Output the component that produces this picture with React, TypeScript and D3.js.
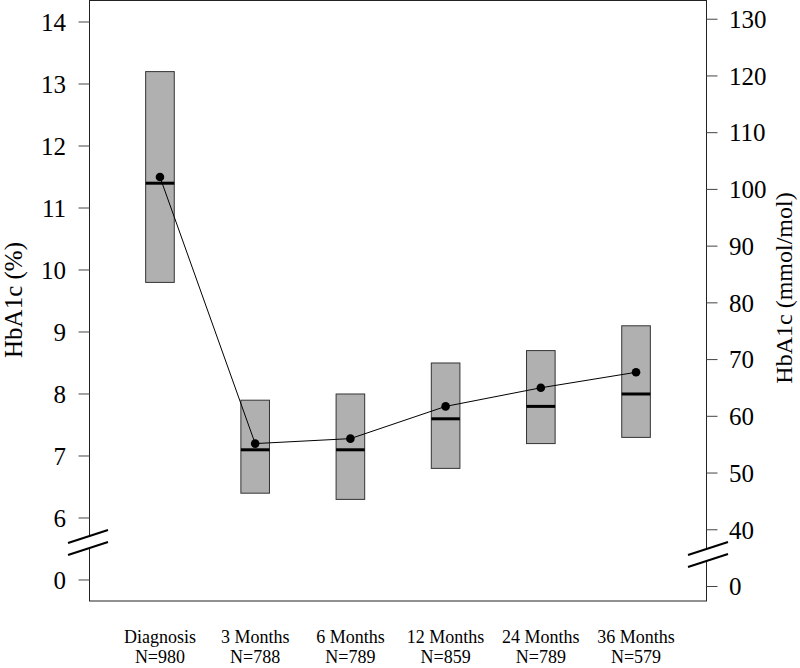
import React from "react";
import * as d3 from "d3";

const categories = ["Diagnosis", "3 Months", "6 Months", "12 Months", "24 Months", "36 Months"];
const sampleSizes = ["N=980", "N=788", "N=789", "N=859", "N=789", "N=579"];
const q1 = [9.8, 6.4, 6.3, 6.8, 7.2, 7.3];
const medians = [11.4, 7.1, 7.1, 7.6, 7.8, 8.0];
const q3 = [13.2, 7.9, 8.0, 8.5, 8.7, 9.1];
const means = [11.5, 7.2, 7.28, 7.8, 8.1, 8.35];
const leftTicks = [6, 7, 8, 9, 10, 11, 12, 13, 14];
const rightTicks = [40, 50, 60, 70, 80, 90, 100, 110, 120, 130];

const FONT = "Liberation Serif, Times New Roman, serif";

export default function App() {
  const W = 800, H = 668;
  const left = 89.5, right = 706.5, top = 0.5, bottom = 601;
  const x = d3.scaleLinear().domain([0.26, 6.74]).range([left, right]);
  const y = d3.scaleLinear().domain([4.661, 14.355]).range([601, 0]);
  // mmol/mol to % conversion (IFCC -> NGSP)
  const toPct = (m: number) => m / 10.929 + 2.15;
  const yR = (m: number) => y(toPct(m));
  const zeroLeftY = y(5);
  const zeroRightY = yR(30);
  const halfW = 14.3;
  const line = d3.line<number>().x((_, i) => x(i + 1)).y((d) => y(d));
  const ts = { fontFamily: FONT } as React.CSSProperties;

  const brk = (x0: number, x1: number, yA: number, gap: number, dy: number) => {
    const pts = [
      [x0, yA], [x1, yA - dy], [x1, yA - dy + gap], [x0, yA + gap],
    ];
    return (
      <g>
        <polygon points={pts.map((p) => p.join(",")).join(" ")} fill="white" />
        <line x1={x0} y1={yA} x2={x1} y2={yA - dy} stroke="black" strokeWidth={2} />
        <line x1={x0} y1={yA + gap} x2={x1} y2={yA + gap - dy} stroke="black" strokeWidth={2} />
      </g>
    );
  };

  return (
    <svg width={W} height={H} style={{ position: "absolute", left: 0, top: 0, fontFamily: FONT }}>
      <rect x={0} y={0} width={W} height={H} fill="white" />
      <rect x={left} y={top} width={right - left} height={bottom - top} fill="none" stroke="#222" strokeWidth={1} />
      {categories.map((c, i) => (
        <g key={c}>
          <rect x={x(i + 1) - halfW} y={y(q3[i])} width={halfW * 2} height={y(q1[i]) - y(q3[i])}
            fill="#b0b0b0" stroke="#333" strokeWidth={1} />
          <line x1={x(i + 1) - halfW} x2={x(i + 1) + halfW} y1={y(medians[i])} y2={y(medians[i])}
            stroke="black" strokeWidth={3} />
        </g>
      ))}
      <path d={line(means) || ""} fill="none" stroke="black" strokeWidth={1} />
      {means.map((m, i) => (
        <circle key={i} cx={x(i + 1)} cy={y(m)} r={4.3} fill="black" />
      ))}
      {leftTicks.map((t) => (
        <g key={t}>
          <line x1={left - 11} x2={left} y1={y(t)} y2={y(t)} stroke="#444" />
          <text style={ts} x={66} y={y(t)} dy="0.35em" textAnchor="end" fontSize={25}>{t}</text>
        </g>
      ))}
      <line x1={left - 11} x2={left} y1={zeroLeftY} y2={zeroLeftY} stroke="#444" />
      <text style={ts} x={66} y={zeroLeftY} dy="0.35em" textAnchor="end" fontSize={25}>0</text>
      {rightTicks.map((t) => (
        <g key={t}>
          <line x1={right} x2={right + 11} y1={yR(t)} y2={yR(t)} stroke="#444" />
          <text style={ts} x={729} y={yR(t)} dy="0.35em" textAnchor="start" fontSize={25}>{t}</text>
        </g>
      ))}
      <line x1={right} x2={right + 11} y1={zeroRightY} y2={zeroRightY} stroke="#444" />
      <text style={ts} x={729} y={zeroRightY} dy="0.35em" textAnchor="start" fontSize={25}>0</text>
      {brk(68, 108, 543, 12, 13)}
      {brk(688, 728, 555, 12, 13)}
      <text style={ts} transform={`translate(22,300) rotate(-90)`} textAnchor="middle" fontSize={25}>HbA1c (%)</text>
      <text style={ts} transform={`translate(792,288) rotate(-90)`} textAnchor="middle" fontSize={24}>HbA1c (mmol/mol)</text>
      {categories.map((c, i) => (
        <g key={c}>
          <text style={ts} x={x(i + 1)} y={643} textAnchor="middle" fontSize={18}>{c}</text>
          <text style={ts} x={x(i + 1)} y={663} textAnchor="middle" fontSize={18}>{sampleSizes[i]}</text>
        </g>
      ))}
    </svg>
  );
}
